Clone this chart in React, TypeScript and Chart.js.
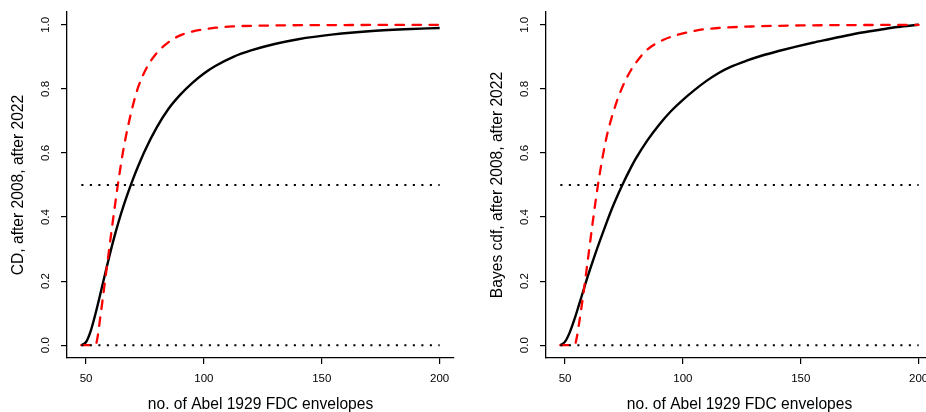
import React, { useEffect, useRef } from "react";
import { Chart, registerables } from "chart.js";

Chart.register(...registerables);

// ---- tick labels / axis text ----
const X_TICKS = [50, 100, 150, 200];
const Y_TICKS = [0, 0.2, 0.4, 0.6, 0.8, 1.0];
const X_TITLE = "no. of Abel 1929 FDC envelopes";
const LEFT_Y_TITLE = "CD, after 2008, after 2022";
const RIGHT_Y_TITLE = "Bayes cdf, after 2008, after 2022";

// ---- reference (dotted) lines ----
const REF_X = [48, 200];
const REF_LEVELS = [0.5, 0];

// ---- left panel: CD ----
const cdBlackX = [48, 50, 52, 54, 56, 58, 60, 62, 64, 66, 68, 70, 72, 75, 80, 85, 90, 95, 100, 105, 112.5, 120, 130, 140, 155, 170, 185, 200];
const cdBlackY = [0, 0.01, 0.045, 0.098, 0.158, 0.22, 0.281, 0.338, 0.39, 0.437, 0.48, 0.52, 0.557, 0.608, 0.68, 0.738, 0.782, 0.818, 0.848, 0.872, 0.9, 0.92, 0.94, 0.955, 0.97, 0.98, 0.986, 0.99];
const cdRedX = [48, 54, 55, 56, 57, 58, 59, 60, 61, 62, 63, 64, 65, 66, 67, 68, 69, 70, 72, 74.3, 77, 80, 83, 87, 91, 95, 100, 105, 112, 130, 150, 200];
const cdRedY = [0, 0, 0.03, 0.085, 0.14, 0.197, 0.254, 0.311, 0.367, 0.422, 0.475, 0.526, 0.574, 0.617, 0.655, 0.69, 0.722, 0.752, 0.803, 0.845, 0.882, 0.912, 0.934, 0.956, 0.97, 0.979, 0.986, 0.991, 0.995, 0.998, 0.999, 1.0];

// ---- right panel: Bayes cdf ----
const bayesBlackX = [48, 50, 52, 54, 56, 58, 60, 62.5, 65, 67.5, 70, 72.5, 75, 77.5, 80, 85, 90, 95, 100, 105, 110, 115, 120, 127, 134, 141, 148, 155, 162, 169, 176, 183, 191, 200];
const bayesBlackY = [0, 0.011, 0.04, 0.081, 0.128, 0.176, 0.223, 0.278, 0.33, 0.38, 0.428, 0.471, 0.511, 0.548, 0.582, 0.64, 0.689, 0.731, 0.766, 0.797, 0.825, 0.849, 0.868, 0.888, 0.905, 0.919, 0.932, 0.944, 0.955, 0.966, 0.976, 0.984, 0.993, 1.0];
const bayesRedX = [48, 54, 55, 56, 57, 58, 59, 60, 61, 62, 63, 64, 65, 66, 67, 68, 69, 70, 72, 74, 76, 78, 80, 84, 88, 92, 96, 100, 107, 115, 130, 150, 200];
const bayesRedY = [0, 0, 0.025, 0.07, 0.12, 0.172, 0.228, 0.285, 0.342, 0.398, 0.452, 0.502, 0.548, 0.59, 0.628, 0.662, 0.69, 0.716, 0.762, 0.8, 0.832, 0.859, 0.881, 0.917, 0.939, 0.954, 0.965, 0.973, 0.984, 0.99, 0.995, 0.998, 1.0];

const FONT = "'Liberation Sans', Arial, Helvetica, sans-serif";

const pts = (xs: number[], ys: number[]) => xs.map((x, i) => ({ x, y: ys[i] }));

type PanelProps = {
  left: number;
  yTitle: string;
  blackX: number[];
  blackY: number[];
  redX: number[];
  redY: number[];
};

function Panel({ left, yTitle, blackX, blackY, redX, redY }: PanelProps) {
  const ref = useRef<HTMLCanvasElement | null>(null);

  useEffect(() => {
    if (!ref.current) return;
    const dotted = REF_LEVELS.map((lvl) => ({
      data: REF_X.map((x) => ({ x, y: lvl })),
      borderColor: "#000",
      borderWidth: 2.1,
      borderDash: [2.1, 6.4],
      borderCapStyle: "butt" as const,
      pointRadius: 0,
      tension: 0,
      fill: false,
    }));
    const chart = new Chart(ref.current, {
      type: "line",
      data: {
        datasets: [
          ...dotted,
          {
            data: pts(redX, redY),
            borderColor: "#ff0000",
            borderWidth: 2.3,
            borderDash: [8.5, 8.5],
            borderCapStyle: "round",
            pointRadius: 0,
            cubicInterpolationMode: "monotone",
            fill: false,
          },
          {
            data: pts(blackX, blackY),
            borderColor: "#000",
            borderWidth: 2.4,
            pointRadius: 0,
            cubicInterpolationMode: "monotone",
            fill: false,
          },
        ],
      },
      options: {
        responsive: false,
        animation: false,
        events: [],
        layout: { padding: { top: 12, right: 9, bottom: 0, left: 0 } },
        plugins: { legend: { display: false }, tooltip: { enabled: false } },
        scales: {
          x: {
            type: "linear",
            min: 41.92,
            max: 206.08,
            afterBuildTicks: (s: any) => {
              s.ticks = X_TICKS.map((v) => ({ value: v }));
            },
            afterFit: (s: any) => {
              s.height = 54;
              s.paddingLeft = 0;
              s.paddingRight = 0;
            },
            grid: {
              display: true,
              drawOnChartArea: false,
              drawTicks: true,
              tickLength: 6,
              color: "#000",
              lineWidth: 1.2,
            },
            border: { display: true, color: "#000", width: 1.3 },
            ticks: {
              autoSkip: false,
              maxRotation: 0,
              minRotation: 0,
              padding: 8,
              color: "#000",
              font: { family: FONT, size: 11.5 },
              callback: (v: any) => String(v),
            },
            title: {
              display: true,
              text: X_TITLE,
              color: "#000",
              padding: { top: 0, bottom: 0 },
              font: { family: FONT, size: 15.6, lineHeight: 1 },
            },
          },
          y: {
            type: "linear",
            min: -0.04,
            max: 1.04,
            afterBuildTicks: (s: any) => {
              s.ticks = Y_TICKS.map((v) => ({ value: v }));
            },
            afterFit: (s: any) => {
              s.width = 67;
              s.paddingTop = 0;
              s.paddingBottom = 0;
            },
            grid: {
              display: true,
              drawOnChartArea: false,
              drawTicks: true,
              tickLength: 6,
              color: "#000",
              lineWidth: 1.2,
            },
            border: { display: true, color: "#000", width: 1.3 },
            ticks: {
              autoSkip: false,
              minRotation: 90,
              maxRotation: 90,
              crossAlign: "center",
              padding: 7,
              color: "#000",
              font: { family: FONT, size: 11.5 },
              callback: (v: any) => Number(v).toFixed(1),
            },
            title: {
              display: true,
              text: yTitle,
              color: "#000",
              padding: { top: 11, bottom: 0 },
              font: { family: FONT, size: 15.6, lineHeight: 1 },
            },
          },
        },
      },
    } as any);
    return () => chart.destroy();
  }, [yTitle, blackX, blackY, redX, redY]);

  return (
    <canvas
      ref={ref}
      width={463}
      height={412}
      style={{ position: "absolute", left, top: 0, width: 463, height: 412 }}
    />
  );
}

export default function App() {
  return (
    <div
      style={{
        position: "fixed",
        left: 0,
        top: 0,
        width: 926,
        height: 412,
        overflow: "hidden",
        background: "#fff",
      }}
    >
      <Panel left={0} yTitle={LEFT_Y_TITLE} blackX={cdBlackX} blackY={cdBlackY} redX={cdRedX} redY={cdRedY} />
      <Panel left={479} yTitle={RIGHT_Y_TITLE} blackX={bayesBlackX} blackY={bayesBlackY} redX={bayesRedX} redY={bayesRedY} />
    </div>
  );
}
